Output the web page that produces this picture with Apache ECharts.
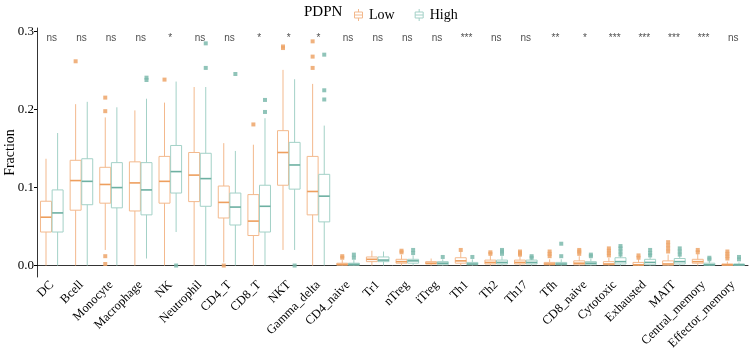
<!DOCTYPE html>
<html>
<head>
<meta charset="utf-8">
<script src="https://cdn.jsdelivr.net/npm/echarts@6/dist/echarts.min.js"></script>
<style>
  html, body { margin: 0; padding: 0; background: #fff; }
  #chart { width: 750px; height: 350px; }
</style>
</head>
<body>
<div id="chart"></div>
<script>
// 细胞类型
var categories = ['DC', 'Bcell', 'Monocyte', 'Macrophage', 'NK', 'Neutrophil', 'CD4_T', 'CD8_T', 'NKT',
  'Gamma_delta', 'CD4_naive', 'Tr1', 'nTreg', 'iTreg', 'Th1', 'Th2', 'Th17', 'Tfh', 'CD8_naive',
  'Cytotoxic', 'Exhausted', 'MAIT', 'Central_memory', 'Effector_memory'];

// 显著性标记
var sigLabels = ['ns', 'ns', 'ns', 'ns', '*', 'ns', 'ns', '*', '*', '*', 'ns', 'ns', 'ns', 'ns',
  '***', 'ns', 'ns', '**', '*', '***', '***', '***', '***', 'ns'];

// [min, Q1, median, Q3, max]
var lowStats = [
  [0, 0.043, 0.062, 0.0825, 0.137],
  [0, 0.071, 0.109, 0.135, 0.207],
  [0.02, 0.080, 0.104, 0.126, 0.190],
  [0, 0.070, 0.106, 0.133, 0.199],
  [0, 0.080, 0.108, 0.140, 0.209],
  [0, 0.082, 0.116, 0.145, 0.229],
  [0.004, 0.061, 0.081, 0.102, 0.157],
  [0, 0.0385, 0.057, 0.091, 0.155],
  [0.020, 0.103, 0.145, 0.173, 0.251],
  [0, 0.065, 0.095, 0.140, 0.233],
  [0, 0.0005, 0.0015, 0.003, 0.007],
  [0, 0.005, 0.008, 0.011, 0.019],
  [0, 0.003, 0.005, 0.008, 0.014],
  [0, 0.002, 0.003, 0.005, 0.009],
  [0, 0.003, 0.006, 0.010, 0.018],
  [0, 0.002, 0.004, 0.007, 0.013],
  [0, 0.002, 0.004, 0.007, 0.013],
  [0, 0.001, 0.002, 0.004, 0.008],
  [0, 0.001, 0.003, 0.006, 0.012],
  [0, 0.001, 0.002, 0.005, 0.010],
  [0, 0.0005, 0.001, 0.004, 0.008],
  [0, 0.0005, 0.002, 0.006, 0.014],
  [0, 0.003, 0.005, 0.008, 0.015],
  [0, 0.0003, 0.001, 0.002, 0.005]
];

var highStats = [
  [0, 0.043, 0.0675, 0.097, 0.170],
  [0, 0.078, 0.108, 0.137, 0.210],
  [0, 0.074, 0.100, 0.132, 0.203],
  [0.009, 0.065, 0.097, 0.132, 0.214],
  [0.043, 0.093, 0.1205, 0.154, 0.236],
  [0, 0.076, 0.1115, 0.144, 0.229],
  [0, 0.052, 0.075, 0.093, 0.147],
  [0, 0.043, 0.076, 0.103, 0.189],
  [0.020, 0.098, 0.129, 0.158, 0.239],
  [0, 0.056, 0.089, 0.117, 0.1795],
  [0, 0.0005, 0.0015, 0.003, 0.007],
  [0, 0.005, 0.007, 0.011, 0.018],
  [0, 0.003, 0.006, 0.008, 0.013],
  [0, 0.001, 0.003, 0.005, 0.008],
  [0, 0.001, 0.002, 0.004, 0.008],
  [0, 0.002, 0.004, 0.007, 0.012],
  [0, 0.002, 0.004, 0.007, 0.012],
  [0, 0.001, 0.002, 0.004, 0.008],
  [0, 0.001, 0.003, 0.005, 0.009],
  [0, 0.002, 0.005, 0.010, 0.020],
  [0, 0.001, 0.004, 0.008, 0.016],
  [0, 0.002, 0.005, 0.009, 0.018],
  [0, 0.0005, 0.001, 0.003, 0.006],
  [0, 0.0003, 0.001, 0.002, 0.004]
];

// 离群点 [类别序号, 数值]
var lowOutliers = [
  [1, 0.262], [2, 0.2154], [2, 0.198], [2, 0.012], [2, 0.002], [4, 0.2385], [6, 0.0],
  [7, 0.181], [8, 0.281], [8, 0.279], [9, 0.2876], [9, 0.268], [9, 0.2535],
  [10, 0.010], [10, 0.012], [12, 0.017], [12, 0.019], [14, 0.020], [15, 0.015], [15, 0.017],
  [16, 0.014], [16, 0.016], [16, 0.018], [17, 0.012], [17, 0.015], [17, 0.018],
  [18, 0.015], [18, 0.018], [18, 0.020], [19, 0.013], [19, 0.016], [19, 0.019], [19, 0.022],
  [20, 0.010], [20, 0.013], [21, 0.018], [21, 0.022], [21, 0.026], [21, 0.030],
  [22, 0.017], [22, 0.020], [23, 0.009], [23, 0.012], [23, 0.015], [23, 0.018]
];

var highOutliers = [
  [3, 0.241], [3, 0.238], [4, 0.0], [5, 0.285], [5, 0.2535], [6, 0.2457], [7, 0.2124],
  [7, 0.197], [8, 0.0], [9, 0.2705], [9, 0.2248], [9, 0.213],
  [10, 0.010], [10, 0.014], [12, 0.016], [12, 0.020], [13, 0.011], [14, 0.011],
  [15, 0.015], [15, 0.018], [15, 0.020], [16, 0.010], [16, 0.012], [17, 0.012], [17, 0.028],
  [18, 0.012], [18, 0.014], [19, 0.014], [19, 0.018], [19, 0.022], [19, 0.025],
  [20, 0.013], [20, 0.016], [20, 0.020], [21, 0.014], [21, 0.018], [21, 0.022],
  [22, 0.008], [22, 0.010], [23, 0.008], [23, 0.011]
];

var sigY = 0.291;

var lowColor = { line: '#F3B98D', median: '#EE9F5E', point: '#EDA469' };
var highColor = { line: '#A3D1C7', median: '#6DB0A2', point: '#7DBAAD' };

var serif = 'Liberation Serif';
var boxIcon = 'path://M5,0V3M1,3H9V9H1ZM1,6H9M5,9V12';

var myChart = echarts.init(document.getElementById('chart'));

// 箱线图绘制（无端帽，仿 ggplot）
function boxRenderer(side, col) {
  return function (params, api) {
    var i = api.value(0);
    var band = api.size([1, 0])[0];
    var w = band * 0.37;
    var cx = api.coord([i, 0])[0] + side * band * 0.196;
    var yMin = api.coord([i, api.value(1)])[1];
    var yQ1 = api.coord([i, api.value(2)])[1];
    var yMed = api.coord([i, api.value(3)])[1];
    var yQ3 = api.coord([i, api.value(4)])[1];
    var yMax = api.coord([i, api.value(5)])[1];
    var lineStyle = { stroke: col.line, lineWidth: 1, fill: null };
    return {
      type: 'group',
      children: [
        { type: 'line', shape: { x1: cx, y1: yMax, x2: cx, y2: yQ3 }, style: lineStyle },
        { type: 'line', shape: { x1: cx, y1: yQ1, x2: cx, y2: yMin }, style: lineStyle },
        { type: 'rect', shape: { x: cx - w / 2, y: yQ3, width: w, height: Math.max(yQ1 - yQ3, 0.5) },
          style: { stroke: col.line, lineWidth: 1, fill: 'rgba(255,255,255,0)' } },
        { type: 'line', shape: { x1: cx - w / 2, y1: yMed, x2: cx + w / 2, y2: yMed },
          style: { stroke: col.median, lineWidth: 1.6 } }
      ]
    };
  };
}

function pointRenderer(side, col) {
  return function (params, api) {
    var i = api.value(0);
    var band = api.size([1, 0])[0];
    var p = api.coord([i, api.value(1)]);
    var cx = p[0] + side * band * 0.196;
    return {
      type: 'rect',
      shape: { x: cx - 2, y: p[1] - 2, width: 4, height: 4 },
      style: { fill: col.point, opacity: 0.85 }
    };
  };
}

var option = {
  backgroundColor: '#fff',
  animation: false,
  title: {
    text: 'PDPN', left: 299, top: 0,
    textStyle: { fontFamily: serif, fontSize: 15, fontWeight: 'normal', color: '#000' }
  },
  legend: {
    left: 349, top: 3,
    itemWidth: 11, itemHeight: 12, itemGap: 20,
    textStyle: { fontFamily: serif, fontSize: 14, color: '#000' },
    data: [
      { name: 'Low', icon: boxIcon, itemStyle: { color: 'rgba(0,0,0,0)', borderColor: lowColor.line, borderWidth: 1 } },
      { name: 'High', icon: boxIcon, itemStyle: { color: 'rgba(0,0,0,0)', borderColor: highColor.line, borderWidth: 1 } }
    ]
  },
  grid: { left: 37, right: 2, top: 28, bottom: 73, containLabel: false, outerBoundsMode: 'none' },
  xAxis: {
    type: 'category',
    data: categories,
    boundaryGap: true,
    axisLine: { lineStyle: { color: '#000', width: 0.8 } },
    axisTick: { alignWithLabel: true, length: 3, lineStyle: { color: '#000' } },
    axisLabel: { rotate: 45, interval: 0, fontFamily: serif, fontSize: 12.5, color: '#000', margin: 6 }
  },
  yAxis: {
    type: 'value',
    min: -0.0147, max: 0.3047,
    name: 'Fraction', nameLocation: 'middle', nameGap: 20, nameRotate: 90,
    nameMoveOverlap: false,
    nameTextStyle: { fontFamily: serif, fontSize: 14, color: '#000' },
    axisLine: { show: true, lineStyle: { color: '#000', width: 0.8 } },
    axisTick: { show: true, length: 3, lineStyle: { color: '#000' }, customValues: [0, 0.1, 0.2, 0.3] },
    axisLabel: {
      fontFamily: serif, fontSize: 13, color: '#000', margin: 3,
      customValues: [0, 0.1, 0.2, 0.3],
      formatter: function (v) { return v.toFixed(1); }
    },
    splitLine: { show: false }
  },
  series: [
    {
      name: 'Low', type: 'custom', itemStyle: { color: lowColor.line },
      renderItem: boxRenderer(-1, lowColor),
      encode: { x: 0, y: [1, 2, 3, 4, 5] },
      data: lowStats.map(function (s, i) { return [i].concat(s); })
    },
    {
      name: 'High', type: 'custom', itemStyle: { color: highColor.line },
      renderItem: boxRenderer(1, highColor),
      encode: { x: 0, y: [1, 2, 3, 4, 5] },
      data: highStats.map(function (s, i) { return [i].concat(s); })
    },
    {
      name: 'Low outliers', type: 'custom',
      renderItem: pointRenderer(-1, lowColor),
      encode: { x: 0, y: 1 },
      data: lowOutliers
    },
    {
      name: 'High outliers', type: 'custom',
      renderItem: pointRenderer(1, highColor),
      encode: { x: 0, y: 1 },
      data: highOutliers
    },
    {
      name: 'sig', type: 'scatter', symbolSize: 0, silent: true,
      label: {
        show: true, position: 'inside',
        fontFamily: 'Liberation Sans', fontSize: 10, color: '#222',
        formatter: function (p) { return sigLabels[p.dataIndex]; }
      },
      data: sigLabels.map(function (s, i) { return [i, sigY]; })
    }
  ]
};

myChart.setOption(option);
</script>
</body>
</html>
